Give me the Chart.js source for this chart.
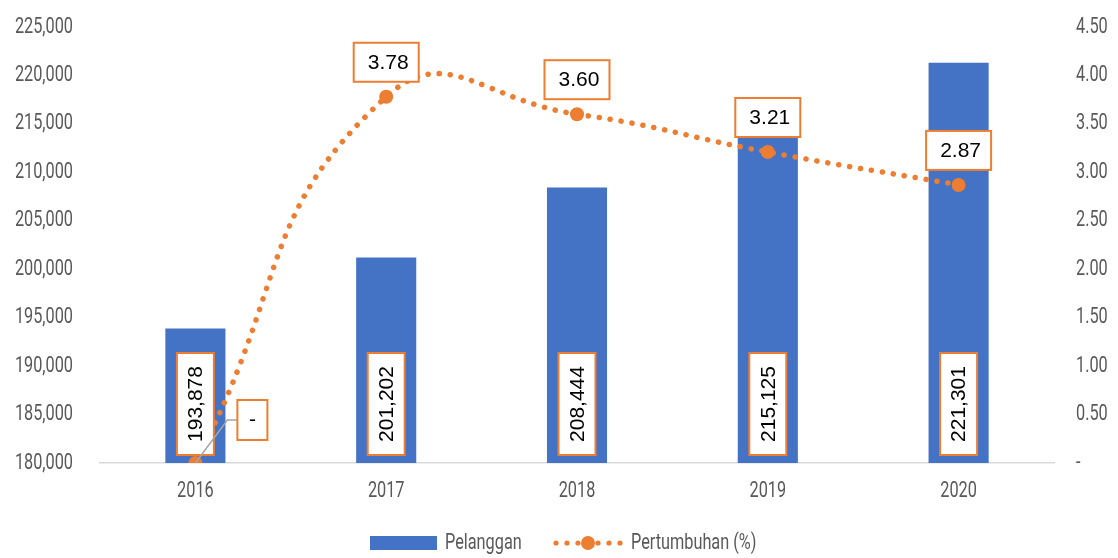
<!DOCTYPE html>
<html>
<head>
<meta charset="utf-8">
<script src="https://cdn.jsdelivr.net/npm/chart.js@4.4.1/dist/chart.umd.min.js"></script>
<style>
  html, body { margin: 0; padding: 0; background: #fff; }
  #wrap { width: 1118px; height: 558px; }
</style>
</head>
<body>
<div id="wrap"><canvas id="grafik" width="1118" height="558"></canvas></div>
<script>
const tahun = ['2016', '2017', '2018', '2019', '2020'];
const pelanggan = [193878, 201202, 208444, 215125, 221301];
const pertumbuhan = [0, 3.78, 3.60, 3.21, 2.87];

const BIRU = '#4472C4';
const ORANYE = '#ED7D31';
const ABU = '#595959';
const FONT_SUMBU = '22px Roboto, "DejaVu Sans", sans-serif';
const FONT_LABEL = '21px "Liberation Sans", Arial, sans-serif';
const SEMPIT = 0.74; // huruf sumbu dibuat ramping

// kotak label putih dengan garis oranye
function kotak(ctx, x, y, w, h) {
    ctx.fillStyle = '#fff';
    ctx.fillRect(x, y, w, h);
    ctx.strokeStyle = ORANYE;
    ctx.lineWidth = 2;
    ctx.strokeRect(x, y, w, h);
}

// teks ramping (dipadatkan horizontal)
function teksRamping(ctx, teks, x, y, align) {
    ctx.save();
    ctx.translate(x, y);
    ctx.scale(SEMPIT, 1);
    ctx.textAlign = align;
    ctx.fillText(teks, 0, 0);
    ctx.restore();
}

function tanpaPadding(scale) {
    scale.paddingTop = 0;
    scale.paddingBottom = 0;
}

const sumbuPlugin = {
    id: 'labelSumbu',
    afterDraw(chart) {
        const ctx = chart.ctx;
        const { x, y, y1 } = chart.scales;
        ctx.save();
        ctx.font = FONT_SUMBU;
        ctx.fillStyle = ABU;
        ctx.textBaseline = 'middle';
        y.ticks.forEach(t => {
            teksRamping(ctx, t.value.toLocaleString('en-US'), 73, y.getPixelForValue(t.value), 'right');
        });
        y1.ticks.forEach(t => {
            const lbl = t.value === 0 ? '-' : t.value.toFixed(2);
            teksRamping(ctx, lbl, 1076, y1.getPixelForValue(t.value), 'left');
        });
        tahun.forEach((th, i) => {
            teksRamping(ctx, th, x.getPixelForValue(i), 491, 'center');
        });

        // legenda di bawah grafik
        const ly = 543;
        ctx.fillStyle = BIRU;
        ctx.fillRect(370, ly - 7, 67, 14);
        ctx.fillStyle = ABU;
        teksRamping(ctx, 'Pelanggan', 445, ly, 'left');
        ctx.fillStyle = ORANYE;
        [556, 567, 578, 598, 609, 620].forEach(px => {
            ctx.beginPath();
            ctx.arc(px, ly, 2.6, 0, Math.PI * 2);
            ctx.fill();
        });
        ctx.beginPath();
        ctx.arc(588, ly, 7, 0, Math.PI * 2);
        ctx.fill();
        ctx.fillStyle = ABU;
        teksRamping(ctx, 'Pertumbuhan (%)', 631, ly, 'left');
        ctx.restore();
    }
};

const labelPlugin = {
    id: 'labelData',
    afterDatasetsDraw(chart) {
        const ctx = chart.ctx;
        const bawah = chart.chartArea.bottom;
        ctx.save();
        ctx.font = FONT_LABEL;
        ctx.textAlign = 'center';
        ctx.textBaseline = 'middle';

        // label batang, diputar vertikal
        chart.getDatasetMeta(0).data.forEach((bar, i) => {
            const w = 37, h = 102;
            const cy = bawah - 8 - h / 2;
            kotak(ctx, bar.x - w / 2, cy - h / 2, w, h);
            ctx.save();
            ctx.translate(bar.x, cy);
            ctx.rotate(-Math.PI / 2);
            ctx.fillStyle = '#000';
            ctx.fillText(pelanggan[i].toLocaleString('en-US'), 0, 1);
            ctx.restore();
        });

        // label garis pertumbuhan
        chart.getDatasetMeta(1).data.forEach((pt, i) => {
            const v = pertumbuhan[i];
            if (v === 0) {
                const bx = pt.x + 42, by = pt.y - 63, bw = 30, bh = 40;
                ctx.strokeStyle = '#A6A6A6';
                ctx.lineWidth = 1.5;
                ctx.beginPath();
                ctx.moveTo(pt.x, pt.y);
                ctx.lineTo(pt.x + 32, pt.y - 43);
                ctx.lineTo(bx, pt.y - 43);
                ctx.stroke();
                kotak(ctx, bx, by, bw, bh);
                ctx.fillStyle = '#000';
                ctx.fillText('-', bx + bw / 2, by + bh / 2);
                return;
            }
            const bw = 65, bh = 39;
            const by = pt.y - 15 - bh;
            kotak(ctx, pt.x - bw / 2, by, bw, bh);
            ctx.fillStyle = '#000';
            ctx.fillText(v.toFixed(2), pt.x + 2, by + bh / 2 + 1);
        });
        ctx.restore();
    }
};

new Chart(document.getElementById('grafik'), {
    data: {
        labels: tahun,
        datasets: [{
            type: 'bar',
            label: 'Pelanggan',
            data: pelanggan,
            yAxisID: 'y',
            backgroundColor: BIRU,
            barPercentage: 0.63,
            categoryPercentage: 0.5,
            order: 2
        }, {
            type: 'line',
            label: 'Pertumbuhan (%)',
            data: pertumbuhan,
            yAxisID: 'y1',
            borderColor: ORANYE,
            borderWidth: 5.5,
            borderDash: [0.1, 11],
            borderCapStyle: 'round',
            tension: 0.5,
            pointRadius: 7,
            pointBackgroundColor: ORANYE,
            pointBorderWidth: 0,
            order: 1
        }]
    },
    options: {
        responsive: false,
        animation: false,
        layout: { padding: { top: 27, bottom: 0, left: 0, right: 0 } },
        plugins: {
            legend: { display: false },
            tooltip: { enabled: false }
        },
        scales: {
            x: {
                grid: { display: false },
                border: { display: true, color: '#D9D9D9', width: 1.5 },
                ticks: { display: false },
                afterFit(scale) { scale.height = 95; }
            },
            y: {
                position: 'left',
                min: 180000,
                max: 225000,
                grid: { display: false },
                border: { display: false },
                ticks: { stepSize: 5000, display: false },
                afterFit(scale) { scale.width = 100; tanpaPadding(scale); }
            },
            y1: {
                position: 'right',
                min: 0,
                max: 4.5,
                grid: { display: false },
                border: { display: false },
                ticks: { stepSize: 0.5, display: false },
                afterFit(scale) { scale.width = 64; tanpaPadding(scale); }
            }
        }
    },
    plugins: [labelPlugin, sumbuPlugin]
});
</script>
</body>
</html>
